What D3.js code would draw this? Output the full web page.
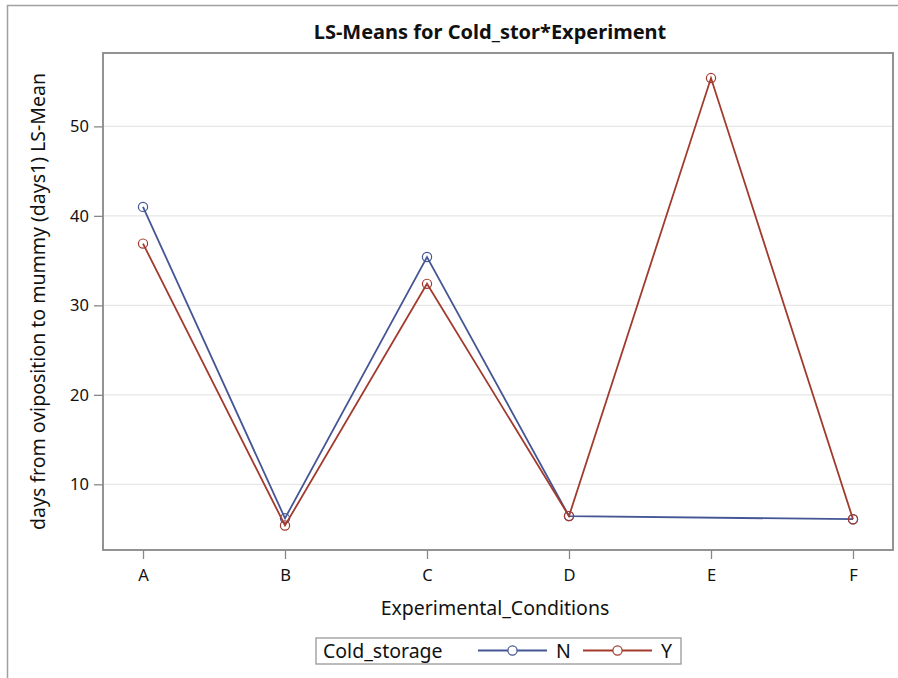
<!DOCTYPE html>
<html><head><meta charset="utf-8">
<script src="https://cdn.jsdelivr.net/npm/d3@7"></script>
<style>body{margin:0;background:#fff}svg{display:block;font-family:"Noto Sans",sans-serif}</style>
</head><body><svg id="c" width="898" height="678"></svg>
<script>
const categories = ["A","B","C","D","E","F"];
const seriesN = [41.0, 6.2, 35.4, 6.45, null, 6.1];
const seriesY = [36.9, 5.4, 32.4, 6.45, 55.4, 6.1];
const yTicks = [10,20,30,40,50];
const seriesNames = ["N","Y"];
const colors = {N:"#445694", Y:"#A23A2E"};

const svg = d3.select("#c");
const L=103, R=893, T=53, B=550;
const x = d3.scalePoint().domain(categories).range([L,R]).padding(0.2817);
const y = d3.scaleLinear().domain([2.66,58.2]).range([B,T]);

// outer border
svg.append("path").attr("d","M7.5,678 V5.5 H898").attr("fill","none").attr("stroke","#a0a0a0").attr("stroke-width",1.5);

// grid
svg.append("g").selectAll("line").data(yTicks).join("line")
  .attr("x1",L).attr("x2",R).attr("y1",d=>y(d)).attr("y2",d=>y(d))
  .attr("stroke","#e6e6e6").attr("stroke-width",1.2);

// axes
const ya = svg.append("g").attr("transform",`translate(${L},0)`)
  .call(d3.axisLeft(y).tickValues(yTicks).tickSize(9).tickPadding(5).tickSizeOuter(0));
const xa = svg.append("g").attr("transform",`translate(0,${B})`)
  .call(d3.axisBottom(x).tickSize(9).tickPadding(10).tickSizeOuter(0));
[ya,xa].forEach(a=>{a.select(".domain").remove();
  a.selectAll("line").attr("stroke","#888").attr("stroke-width",1.3);
  a.selectAll("text").attr("font-size",16.5).attr("fill","#111").attr("font-family","Noto Sans");});

// frame
svg.append("rect").attr("x",L).attr("y",T).attr("width",R-L).attr("height",B-T)
  .attr("fill","none").attr("stroke","#888").attr("stroke-width",1.8);

// lines
const line = d3.line().defined(d=>d.v!=null).x(d=>x(d.c)).y(d=>y(d.v));
const data = {N: categories.map((c,i)=>({c,v:seriesN[i]})), Y: categories.map((c,i)=>({c,v:seriesY[i]}))};
seriesNames.forEach(s=>{
  const pts = data[s].filter(d=>d.v!=null);
  svg.append("path").datum(pts).attr("d",line).attr("fill","none").attr("stroke",colors[s]).attr("stroke-width",1.8);
  svg.append("g").selectAll("circle").data(pts).join("circle")
    .attr("cx",d=>x(d.c)).attr("cy",d=>y(d.v)).attr("r",4.6)
    .attr("fill","none").attr("stroke",colors[s]).attr("stroke-width",1.2);
});

// title
svg.append("text").attr("x",490).attr("y",39).attr("text-anchor","middle")
  .attr("font-size",20).attr("font-weight","bold").attr("fill","#111").text("LS-Means for Cold_stor*Experiment");
// y label
svg.append("text").attr("transform",`translate(45,${(T+B)/2}) rotate(-90)`).attr("text-anchor","middle")
  .attr("font-size",19.5).attr("fill","#111").text("days from oviposition to mummy (days1) LS-Mean");
// x label
svg.append("text").attr("x",495).attr("y",615).attr("text-anchor","middle")
  .attr("font-size",19.5).attr("fill","#111").text("Experimental_Conditions");

// legend
const lg = svg.append("g");
lg.append("rect").attr("x",316).attr("y",638).attr("width",365).attr("height",26)
  .attr("fill","#fff").attr("stroke","#999").attr("stroke-width",1.3);
lg.append("text").attr("x",323).attr("y",657.5).attr("font-size",19.5).attr("fill","#111").text("Cold_storage");
const legX = {N:478, Y:583};
seriesNames.forEach(s=>{
  const x0 = legX[s];
  lg.append("line").attr("x1",x0).attr("x2",x0+69).attr("y1",650.5).attr("y2",650.5).attr("stroke",colors[s]).attr("stroke-width",1.8);
  lg.append("circle").attr("cx",x0+34.5).attr("cy",650.5).attr("r",4.6).attr("fill","#fff").attr("stroke",colors[s]).attr("stroke-width",1.2);
  lg.append("text").attr("x",x0+78).attr("y",657.5).attr("font-size",19.5).attr("fill","#111").text(s);
});
</script></body></html>
